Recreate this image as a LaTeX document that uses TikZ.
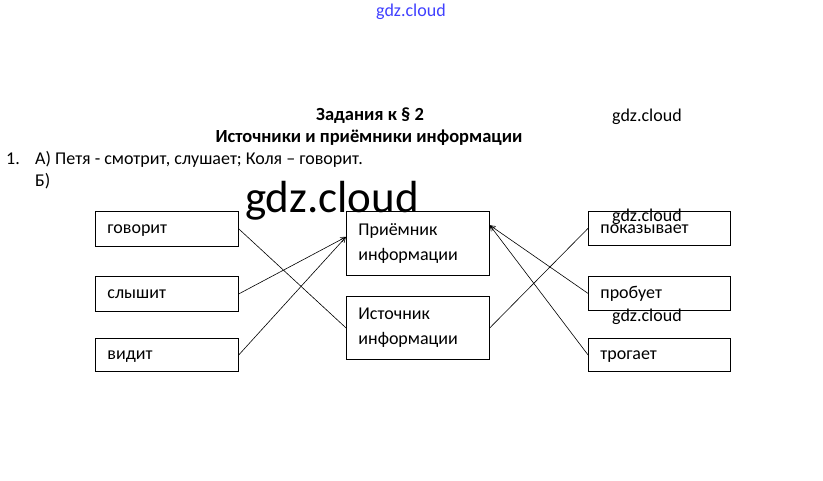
\documentclass[tikz,border=0pt]{standalone}
\usepackage{fontspec}
\setmainfont{Carlito}
\usetikzlibrary{arrows.meta,calc}
\begin{document}
\begin{tikzpicture}[x=1pt,y=-1pt,
  box/.style={draw=black,line width=0.8pt,anchor=north west,inner ysep=0pt,
    font=\fontsize{18}{25}\selectfont,align=left},
  onebox/.style={box,text height=14pt,text depth=4pt},
  txt/.style={inner sep=0pt,font=\fontsize{18}{20}\selectfont},
  bold/.style={inner sep=0pt,font=\fontsize{18.5}{20}\selectfont\bfseries},
  wm/.style={inner sep=0pt,font=\fontsize{18}{20}\selectfont},
  conn/.style={line width=0.6pt,black},
  arr/.style={conn,-{Straight Barb[length=5pt,width=5pt]}}
]
\useasboundingbox (0,0) rectangle (823,481);
\fill[white] (0,0) rectangle (823,481);
% watermarks
\node[wm,text=blue!75!white,anchor=base] (w1) at (411,17) {gdz.cloud};
\node[wm,anchor=base] (w2) at (647,122) {gdz.cloud};
\node[inner sep=0pt,font=\fontsize{45}{45}\selectfont,anchor=base] (w3) at (332,213) {gdz.cloud};
% header text
\node[bold,anchor=base] (t1) at (370,121) {Задания к § 2};
\node[bold,anchor=base] (t2) at (369,143) {Источники и приёмники информации};
\node[txt,anchor=base west] (n1) at (6,165) {1.};
\node[txt,anchor=base west] (a1) at (35,165) {А) Петя - смотрит, слушает; Коля – говорит.};
\node[txt,anchor=base west] (b1) at (35,187) {Б)};
% left boxes
\node[onebox,minimum width=143,minimum height=35,text width=119,inner xsep=12pt] (gov) at (95,211) {говорит};
\node[onebox,minimum width=143,minimum height=35,text width=119,inner xsep=12pt] (sly) at (95,276) {слышит};
\node[onebox,minimum width=143,minimum height=33,text width=119,inner xsep=12pt] (vid) at (95,338) {видит};
% middle boxes
\node[box,minimum width=143,minimum height=64,text width=119,inner xsep=12pt] (pri) at (346,211) {Приёмник\\информации};
\node[box,minimum width=143,minimum height=63,text width=119,inner xsep=12pt] (ist) at (346,296) {Источник\\информации};
% right boxes
\node[onebox,minimum width=142,minimum height=34,text width=118,inner xsep=12pt] (pok) at (588,211) {показывает};
\node[onebox,minimum width=142,minimum height=34,text width=118,inner xsep=12pt] (pro) at (588,276) {пробует};
\node[onebox,minimum width=142,minimum height=33,text width=118,inner xsep=12pt] (tro) at (588,338) {трогает};
% watermarks over right boxes
\node[wm,anchor=base] (w4) at (647,222) {gdz.cloud};
\node[wm,anchor=base] (w5) at (647,322) {gdz.cloud};
% anchor points
\coordinate (pl) at ($(pri.north west)!0.4!(pri.south west)$);
\coordinate (pr) at ($(pri.north east)!0.22!(pri.south east)$);
% connectors
\draw[conn] (gov.east) -- (ist.west);
\draw[arr] (sly.east) -- (pl);
\draw[arr] (vid.east) -- (pl);
\draw[conn] (pok.west) -- (ist.east);
\draw[arr] (pro.west) -- (pr);
\draw[arr] (tro.west) -- (pr);
\end{tikzpicture}
\end{document}
